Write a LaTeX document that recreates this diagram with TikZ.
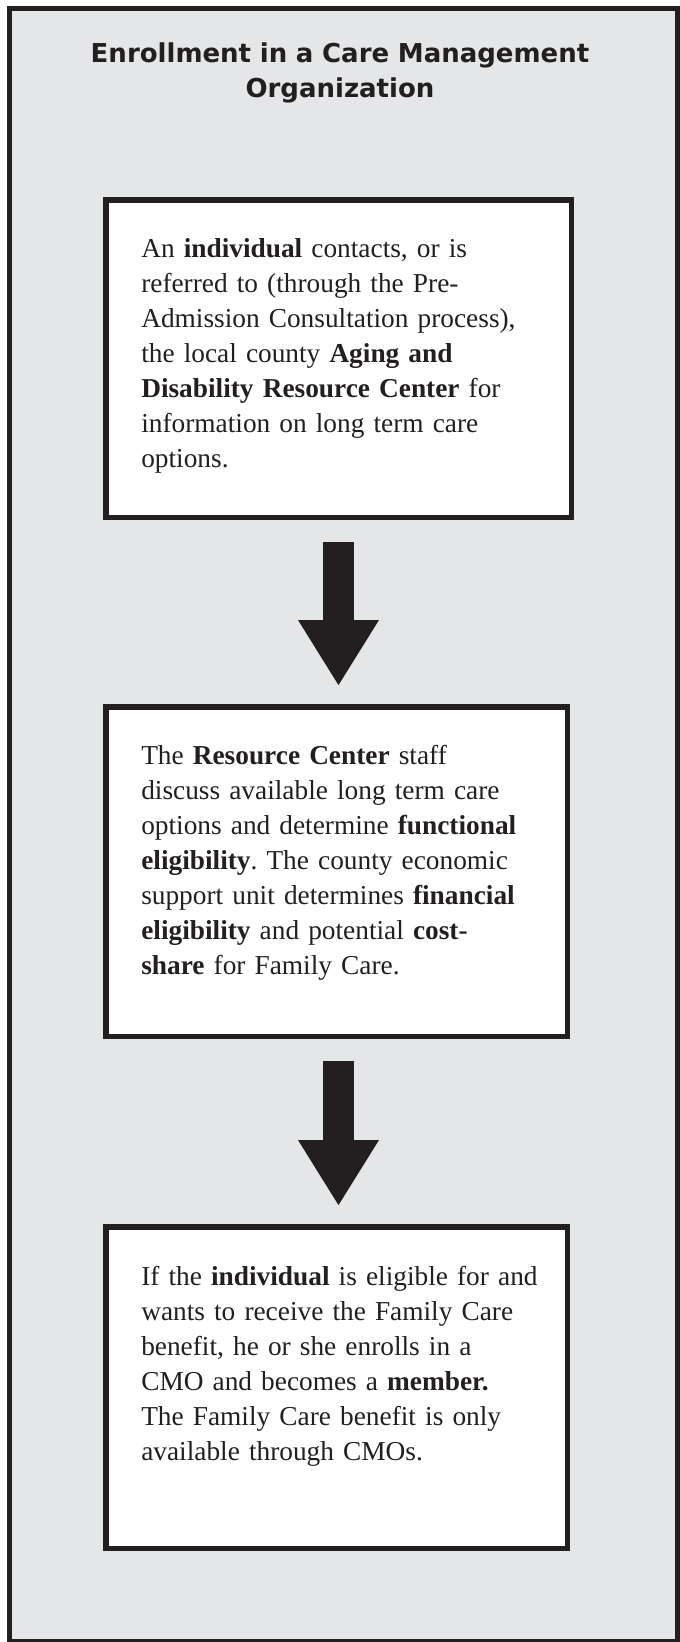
\documentclass[tikz,border=0pt]{standalone}
\usepackage{fontspec}
\setmainfont{Liberation Serif}
\newfontfamily\headfont{DejaVu Sans}
\usetikzlibrary{arrows.meta}
\frenchspacing

\definecolor{panelgray}{HTML}{E5E6E8}
\definecolor{ink}{HTML}{231F20}

\tikzset{
  stage/.style={draw=ink, line width=4.1pt, fill=white, inner sep=0pt},
  stagetext/.style={anchor=base west, inner sep=0pt, text width=300pt, align=left,
    text=ink, font=\fontsize{20.5}{26.25}\selectfont},
  heading/.style={anchor=base, inner sep=0pt, text width=450pt, align=center,
    text=ink, font=\headfont\bfseries\fontsize{19.5}{26.25}\selectfont},
  flow/.style={draw=ink, line width=23.5pt, -{Triangle[length=49.5pt,width=57pt]},
    shorten <=16.5pt, shorten >=13.5pt}
}

\begin{document}
\begin{tikzpicture}[x=0.75pt,y=-0.75pt]
		\useasboundingbox (0,0) rectangle (680,1642);
		% grey panel with its frame
		\draw [draw=ink, fill=panelgray, line width=3.75pt] (9.5,8.5) rectangle (677.5,1641);
		\node [heading] (title) at (340,62) {Enrollment in a Care Management\\Organization};

		% the three steps
		\node [stage, minimum width=349.1pt, minimum height=238.1pt] (contact) at (338.5,358.5) {};
		\node [stage, minimum width=346.1pt, minimum height=247.1pt] (screening) at (336.5,871.5) {};
		\node [stage, minimum width=346.1pt, minimum height=241.1pt] (enroll) at (336.5,1387.5) {};

		\node [stagetext] (contacttext) at (141,257) {An \textbf{individual} contacts, or is\\
			referred to (through the Pre-\\
			Admission Consultation process),\\
			the local county \textbf{Aging and}\\
			\makebox[285.9pt][s]{\textbf{Disability Resource Center} for}\\
			information on long term care\\
			options.};
		\node [stagetext] (screeningtext) at (141,764) {\makebox[246.9pt][s]{The \textbf{Resource Center} staff}\\
			discuss available long term care\\
			options and determine \textbf{functional}\\
			\textbf{eligibility}. The county economic\\
			support unit determines \textbf{financial}\\
			\makebox[248.8pt][s]{\textbf{eligibility} and potential \textbf{cost-}}\\
			\textbf{share} for Family Care.};
		\node [stagetext] (enrolltext) at (141,1285) {If the \textbf{individual} is eligible for and\\
			wants to receive the Family Care\\
			benefit, he or she enrolls in a\\
			\makebox[269.3pt][s]{CMO and becomes a \textbf{member.}}\\
			The Family Care benefit is only\\
			available through CMOs.};

		% block arrows between the steps
		\draw [flow] (contact.south) -- (contact.south |- screening.north);
		\draw [flow] (contact.south |- screening.south) -- (contact.south |- enroll.north);
\end{tikzpicture}
\end{document}
